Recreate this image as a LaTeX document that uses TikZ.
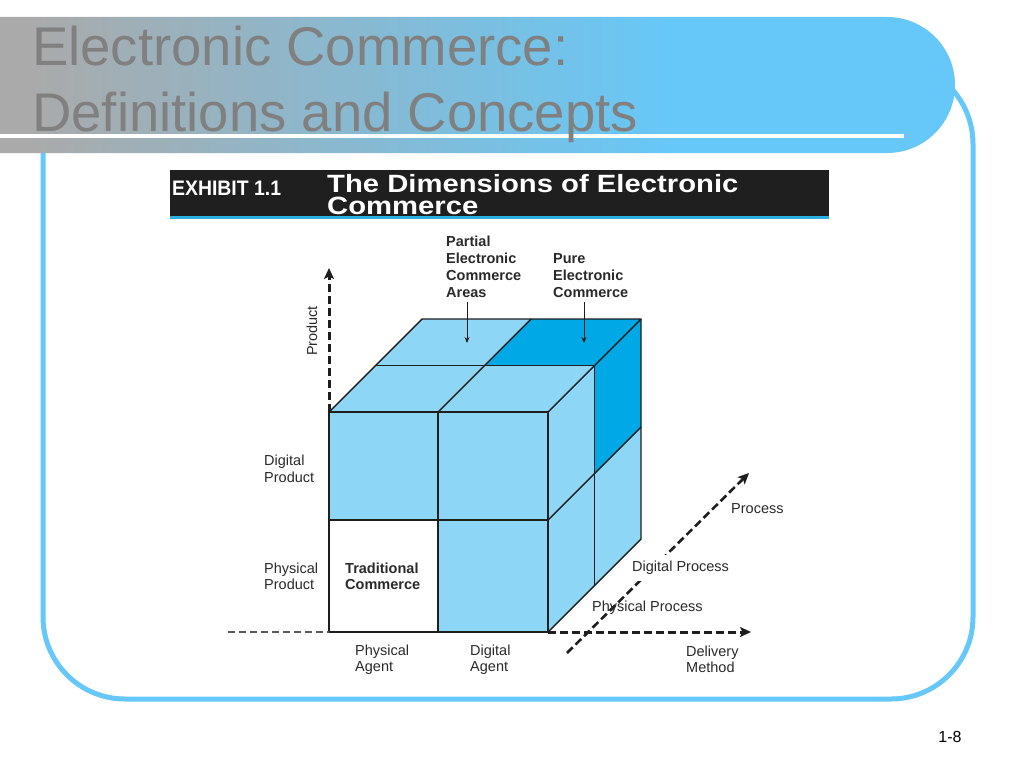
\documentclass[tikz,border=0pt]{standalone}
\usepackage{fontspec}
\setmainfont{Liberation Sans}
\usetikzlibrary{arrows.meta}
\definecolor{cubelight}{HTML}{8ED6F6}
\definecolor{cubedark}{HTML}{00A9E6}
\definecolor{framebl}{HTML}{66C8F8}
\definecolor{bargray}{HTML}{AAAAAA}
\definecolor{titlegray}{HTML}{808080}
\definecolor{rulecyan}{HTML}{2AAEE4}
\definecolor{edgeblack}{HTML}{1E1E1E}
\definecolor{labeltext}{HTML}{2A2A2A}
\pgfdeclarehorizontalshading{barshade}{100bp}{color(0bp)=(bargray); color(26.6bp)=(bargray); color(60.5bp)=(framebl); color(100bp)=(framebl)}
\begin{document}
\begin{tikzpicture}[x=1pt,y=-1pt,
  lbl/.style={inner sep=0pt, anchor=north west, align=left, text=labeltext, font=\fontsize{14.5}{17}\selectfont},
  lblb/.style={lbl, font=\fontsize{14.5}{17}\selectfont\bfseries},
  lbllow/.style={lbl, font=\fontsize{14.5}{16}\selectfont},
  lbllowb/.style={lbl, font=\fontsize{14.5}{16}\selectfont\bfseries},
  cubeedge/.style={draw=edgeblack, line width=1.4pt, line join=round},
  axisarrow/.style={draw=edgeblack, line width=3pt, dash pattern=on 8pt off 4pt, -{Stealth[length=11pt,width=10pt,inset=2.5pt]}},
  pointer/.style={draw=edgeblack, line width=1pt, -{Stealth[length=6pt,width=5pt]}},
]
\useasboundingbox (0,0) rectangle (1024,768);
\fill[white] (0,0) rectangle (1024,768);

% frame
\draw[framebl, line width=5pt, rounded corners=82pt] (43,62) rectangle (973,699);

% title bar
\shade[shading=barshade] (0,17) -- (887,17) .. controls (924.6,17) and (955,47.4) .. (955,85)
  .. controls (955,122.6) and (924.6,153) .. (887,153) -- (0,153) -- cycle;
\draw[white, line width=4pt] (0,136) -- (904,136);

\node[anchor=base west, inner sep=0pt, text=titlegray, font=\fontsize{54.5}{65}\selectfont] (title1) at (32,66) {Electronic Commerce:};
\node[anchor=base west, inner sep=0pt, text=titlegray, font=\fontsize{54.5}{65}\selectfont] (title2) at (32,131) {Definitions and Concepts};

% exhibit header
\node[fill=black!88, draw=none, anchor=north west, minimum width=659pt, minimum height=47pt, inner sep=0pt] (hdr) at (170,170) {};
\draw[rulecyan, line width=2.5pt] (hdr.south west) -- (hdr.south east);
\node[anchor=base west, inner sep=0pt, text=white, font=\fontsize{20}{22}\selectfont\bfseries] (exh) at (172,195) {\scalebox{0.97}[1.05]{EXHIBIT 1.1}};
\node[anchor=north west, inner sep=0pt, align=left, text=white, font=\fontsize{25}{22}\selectfont\bfseries] (hd) at (327,174.5) {\scalebox{1.17}[1]{The Dimensions of Electronic}\\\scalebox{1.17}[1]{Commerce}};

% cube coordinates
\coordinate (A) at (329,412);
\coordinate (B) at (438,412);
\coordinate (C) at (548,412);
\coordinate (D) at (329,520);
\coordinate (E) at (438,520);
\coordinate (Fm) at (548,520);
\coordinate (G) at (329,632);
\coordinate (H) at (438,632);
\coordinate (I) at (548,632);
\coordinate (J) at (422,319);
\coordinate (K) at (531,319);
\coordinate (L) at (641,319);
\coordinate (M) at (375.5,365.5);
\coordinate (N) at (484.5,365.5);
\coordinate (O) at (594.5,365.5);
\coordinate (P) at (641,427);
\coordinate (Q) at (594.5,473.5);
\coordinate (R) at (641,539);
\coordinate (S) at (594.5,585.5);

% fills
\fill[cubelight] (A) -- (C) -- (I) -- (G) -- cycle;
\fill[cubelight] (A) -- (J) -- (L) -- (C) -- cycle;
\fill[cubelight] (C) -- (L) -- (R) -- (I) -- cycle;
\fill[cubedark] (N) -- (K) -- (L) -- (O) -- cycle;
\fill[cubedark] (O) -- (L) -- (P) -- (Q) -- cycle;
\fill[white] (D) -- (E) -- (H) -- (G) -- cycle;

% edges
\draw[cubeedge] (A) -- (C) -- (I) -- (G) -- cycle;
\draw[cubeedge] (B) -- (H);
\draw[cubeedge] (D) -- (Fm);
\draw[cubeedge] (A) -- (J) -- (L) -- (C);
\draw[cubeedge] (B) -- (K);
\draw[cubeedge] (M) -- (O);
\draw[cubeedge] (L) -- (R) -- (I);
\draw[cubeedge] (O) -- (S);
\draw[cubeedge] (Fm) -- (P);

% axes
\coordinate (prodEnd) at (329,268);
\coordinate (delEnd) at (751,632);
\coordinate (procStart) at (567,653);
\coordinate (procEnd) at (749,473);
\coordinate (leftStart) at (228,632);
\draw[black!65, line width=1.2pt, dash pattern=on 7pt off 4pt] (leftStart) -- (G);
\draw[axisarrow] (A) -- (prodEnd);
\draw[axisarrow] (I) -- (delEnd);
\draw[axisarrow, line width=2.6pt] (procStart) -- (procEnd);

% pointer arrows
\coordinate (paTop) at (467,302);
\coordinate (paTip) at (467,343);
\coordinate (peTop) at (584,302);
\coordinate (peTip) at (584,343);
\draw[pointer] (paTop) -- (paTip);
\draw[pointer] (peTop) -- (peTip);

% labels
\node[lblb] (partial) at (446,236) {Partial\\Electronic\\Commerce\\Areas};
\node[lblb] (pure) at (553,253) {Pure\\Electronic\\Commerce};
\node[lbl, rotate=90, anchor=center] (product) at (312,331) {Product};
\node[lbl] (digprod) at (264,455) {Digital\\Product};
\node[lbllow] (physprod) at (264,563) {Physical\\Product};
\node[lbllowb] (trad) at (345,563) {Traditional\\Commerce};
\node[lbllow] (physagent) at (355,645) {Physical\\Agent};
\node[lbllow] (digagent) at (470,645) {Digital\\Agent};
\node[lbllow] (delivery) at (686,646) {Delivery\\Method};
\node[lbl] (process) at (731,503) {Process};
\node[lbl, fill=white, inner xsep=1pt, inner ysep=6pt] (digproc) at (631,555) {Digital Process};
\node[lbl] (physproc) at (592,601) {Physical Process};

% page number
\node[inner sep=0pt, text=black, font=\fontsize{16}{18}\selectfont] (pagenum) at (950,737) {1-8};
\end{tikzpicture}
\end{document}
